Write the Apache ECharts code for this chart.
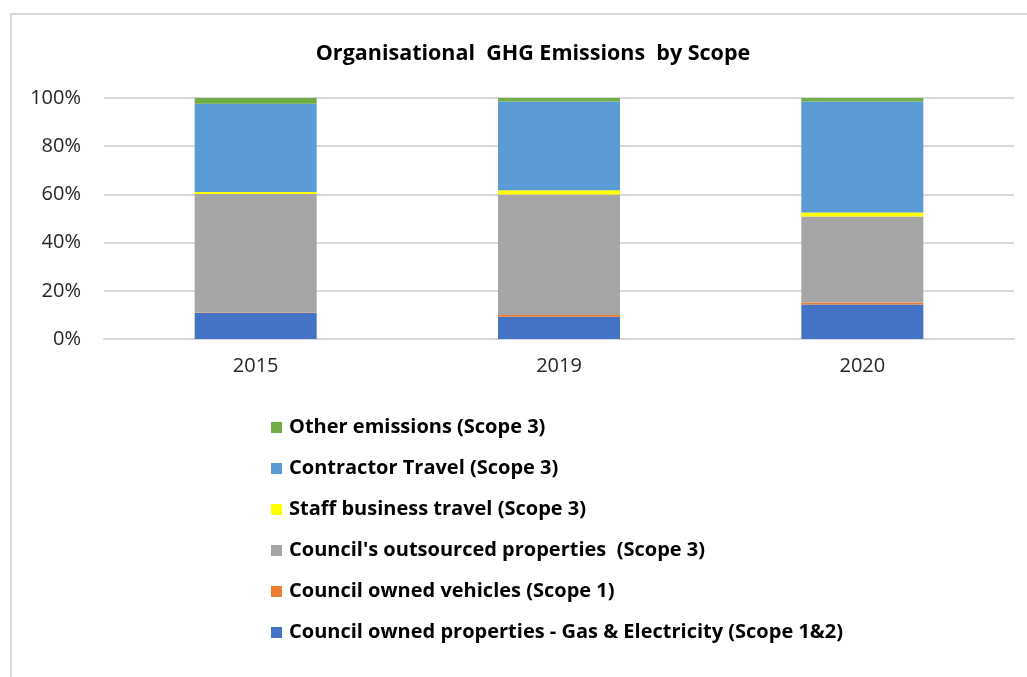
<!DOCTYPE html>
<html>
<head>
<meta charset="utf-8">
<script src="https://cdn.jsdelivr.net/npm/echarts@6/dist/echarts.min.js"></script>
<style>
  html, body { margin: 0; padding: 0; background: #fff; }
  #frame { position: absolute; left: 10px; top: 13px; width: 1017px; height: 664px;
           border-left: 2px solid #d9d9d9; border-top: 2px solid #d9d9d9; box-sizing: border-box; }
  #main { position: absolute; left: 0; top: 0; width: 1027px; height: 677px; }
</style>
</head>
<body>
<div id="frame"></div>
<div id="main"></div>
<script>
// years on the x axis
const years = ['2015', '2019', '2020'];

// share of total emissions, % (bottom of stack first)
const ownedProperties = [10.8, 9.2, 14.3];
const ownedVehicles = [0.2, 0.8, 0.8];
const outsourcedProperties = [49.2, 50.0, 35.7];
const staffTravel = [0.8, 1.7, 1.7];
const contractorTravel = [36.6, 36.8, 46.0];
const otherEmissions = [2.4, 1.5, 1.5];

const seriesNames = [
  'Council owned properties - Gas & Electricity (Scope 1&2)',
  'Council owned vehicles (Scope 1)',
  "Council's outsourced properties  (Scope 3)",
  'Staff business travel (Scope 3)',
  'Contractor Travel (Scope 3)',
  'Other emissions (Scope 3)'
];
const seriesData = [ownedProperties, ownedVehicles, outsourcedProperties, staffTravel, contractorTravel, otherEmissions];
const colors = ['#4472c4', '#ed7d31', '#a5a5a5', '#ffff00', '#5b9bd5', '#70ad47'];

const fontFam = '"Open Sans", sans-serif';

const chart = echarts.init(document.getElementById('main'), null, { renderer: 'canvas' });

const series = seriesNames.map((name, i) => ({
  name: name,
  type: 'bar',
  stack: 'total',
  barWidth: 122,
  itemStyle: { color: colors[i] },
  data: seriesData[i]
}));

chart.setOption({
  animation: false,
  title: {
    text: 'Organisational  GHG Emissions  by Scope',
    left: 528,
    textAlign: 'center',
    top: 38,
    textStyle: { fontFamily: fontFam, fontSize: 21.5, fontWeight: 'bold', color: '#000' }
  },
  grid: { left: 104, right: 13, top: 98, bottom: 338, containLabel: false },
  xAxis: {
    type: 'category',
    data: years,
    axisLine: { lineStyle: { color: '#d9d9d9', width: 2 } },
    axisTick: { show: false },
    axisLabel: { fontFamily: fontFam, fontSize: 20, color: '#262626', margin: 17 }
  },
  yAxis: {
    type: 'value',
    min: 0,
    max: 100,
    interval: 20,
    axisLine: { show: false },
    axisTick: { show: false },
    splitLine: { lineStyle: { color: '#d9d9d9', width: 2 } },
    axisLabel: { fontFamily: fontFam, fontSize: 20, color: '#262626', margin: 23, formatter: v => v + '%' }
  },
  legend: {
    orient: 'vertical',
    left: 266,
    top: 409,
    itemWidth: 11,
    itemHeight: 11,
    itemGap: 14,
    icon: 'rect',
    data: seriesNames.slice().reverse(),
    textStyle: { fontFamily: fontFam, fontSize: 20, fontWeight: 'bold', color: '#000', padding: [0, 0, 0, 2], lineHeight: 27 }
  },
  series: series
});
</script>
</body>
</html>
